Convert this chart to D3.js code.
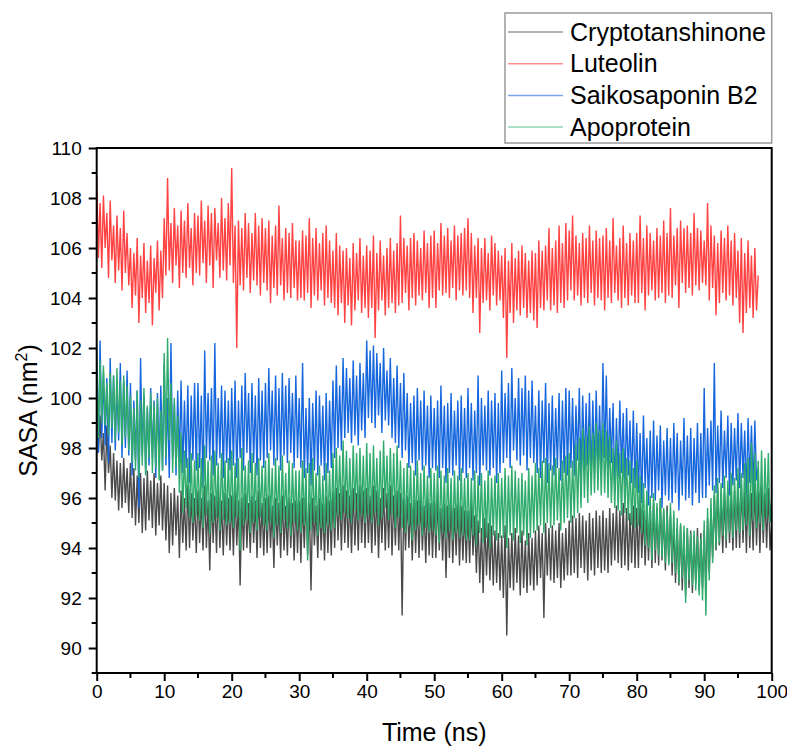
<!DOCTYPE html>
<html><head><meta charset="utf-8">
<script src="https://cdn.jsdelivr.net/npm/d3@7"></script>
<style>body{margin:0;background:#fff}svg{display:block}text{font-family:"Liberation Sans",Arial,sans-serif;fill:#000}</style>
</head><body><svg id="c" width="787" height="749"></svg>
<script>
const timeStep = 0.25; // ns between stored samples
const seriesNames = ["Cryptotanshinone","Luteolin","Saikosaponin B2","Apoprotein"];
const seriesColors = ["#4a4a4a","#ff4343","#1667de","#2fab6b"];
const legendColors = ["#9a9a9a","#ff8f8f","#7aa7ee","#8fd6b0"];
const xTicks = [0,10,20,30,40,50,60,70,80,90,100];
const yTicks = [90,92,94,96,98,100,102,104,106,108,110];

const cryptotanshinone = [
99.6,97.8,99.3,97.5,98.6,96.3,98.9,97.0,98.1,96.0,97.8,95.9,97.5,95.5,97.4,95.6,97.6,95.8,97.2,95.4,
97.4,95.2,97.2,94.9,96.9,95.0,97.0,94.6,96.8,94.7,97.1,95.1,96.7,94.8,97.0,94.5,96.6,94.9,96.9,94.7,
96.6,94.3,96.5,93.8,96.2,94.1,96.4,94.5,96.1,93.6,96.3,94.2,96.0,93.9,96.5,94.0,96.2,94.3,96.0,93.8,
96.3,94.2,96.0,93.9,96.5,94.0,95.9,93.1,96.2,94.2,96.1,93.8,96.4,94.0,95.9,93.7,96.2,94.1,96.0,93.9,
96.1,93.7,96.3,94.1,95.9,92.5,96.0,93.9,96.2,94.0,95.8,93.8,96.1,94.2,95.9,93.6,96.3,94.0,95.8,93.7,
96.0,93.8,96.1,94.0,95.7,93.2,96.0,94.1,95.8,93.6,96.1,93.9,95.7,93.7,96.0,94.0,95.8,93.5,95.9,93.8,
95.9,93.4,96.0,94.0,96.1,93.7,95.8,92.3,96.0,94.1,95.7,93.6,96.0,93.9,95.8,93.5,96.1,93.8,95.9,93.7,
96.3,94.0,96.4,94.3,96.2,93.9,96.5,94.2,96.3,94.0,96.1,93.8,96.4,94.1,96.2,93.9,96.5,94.2,96.3,94.0,
96.4,94.2,96.1,93.8,96.5,94.1,96.3,93.6,96.0,94.2,96.4,93.9,96.2,94.0,96.5,93.7,96.1,94.1,96.3,93.9,
96.2,91.3,96.0,93.9,96.1,94.0,95.8,93.5,96.0,93.8,95.9,93.6,96.1,93.9,95.7,93.4,96.0,93.7,95.8,93.6,
95.9,93.6,96.1,93.9,95.6,93.5,95.8,92.8,95.7,93.6,95.9,93.4,95.6,93.7,95.8,93.3,95.7,93.5,95.5,93.4,
95.5,93.4,95.8,93.7,95.3,93.0,95.1,92.6,94.8,92.2,95.2,92.9,95.0,92.7,94.9,92.5,94.7,92.6,94.6,92.3,
94.5,92.0,94.9,90.5,94.4,92.4,94.6,92.3,94.8,92.6,94.5,92.1,94.7,92.4,94.3,92.2,94.6,92.5,94.4,92.3,
94.7,92.5,94.9,92.8,94.6,91.2,95.0,92.9,94.8,92.7,94.9,92.6,94.7,92.8,95.0,92.4,94.6,92.7,94.8,92.9,
95.1,92.9,95.3,93.0,95.2,92.8,95.4,93.2,95.3,93.0,95.1,92.7,95.4,93.1,95.2,92.9,95.5,93.2,95.3,93.0,
95.5,93.1,95.2,93.0,95.6,93.3,95.4,93.5,95.7,93.4,95.5,93.2,95.8,93.3,95.6,93.1,95.4,93.4,95.7,93.2,
95.6,93.2,95.9,93.6,95.5,93.3,95.4,93.5,95.7,93.2,95.8,93.4,95.6,93.3,95.9,93.5,95.5,93.1,95.7,93.4,
95.3,92.9,95.0,92.6,94.8,92.5,94.9,92.3,94.6,92.1,94.8,92.4,94.7,92.2,94.5,92.6,94.8,92.3,94.6,92.4,
94.7,92.4,95.2,93.0,95.6,93.6,96.1,93.9,96.3,94.1,96.0,93.8,96.2,94.0,96.4,94.2,96.1,93.9,96.3,94.0,
96.4,94.0,96.6,94.2,96.3,93.8,96.5,94.0,96.2,93.9,96.6,94.1,96.3,93.8,96.5,94.2,96.2,94.0,96.4,93.9,
95.0];

const luteolin = [
108.9,105.6,107.8,105.2,108.1,106.0,107.4,104.8,107.9,105.5,106.9,104.6,107.3,105.1,106.8,104.3,107.5,105.0,106.6,104.5,
106.0,103.6,105.8,104.1,106.4,103.0,105.7,104.0,106.2,103.4,105.5,103.8,106.1,102.9,105.6,104.2,106.3,103.5,105.9,104.0,
107.2,104.9,108.8,105.1,107.0,104.6,107.6,105.3,106.9,104.4,107.5,105.0,107.1,104.8,107.8,105.2,106.8,104.5,107.4,105.0,
107.3,104.9,107.9,105.4,107.1,104.6,107.7,105.3,107.4,104.4,107.6,105.5,107.0,104.8,108.0,105.1,107.2,104.7,107.8,105.3,
109.2,104.6,106.9,102.0,107.1,104.5,106.8,104.3,107.4,104.8,107.0,104.2,106.6,104.7,107.4,104.5,106.9,104.1,107.2,104.6,
106.8,104.3,107.1,103.8,106.5,104.4,106.9,104.1,107.7,104.5,106.4,103.9,106.8,104.2,106.6,104.0,107.0,104.4,106.3,103.9,
106.3,104.0,106.7,103.9,106.5,104.2,107.2,103.6,106.4,104.1,106.8,103.9,106.2,104.3,106.6,103.7,106.9,104.0,106.3,103.8,
105.9,103.6,106.6,103.3,106.1,103.8,105.9,103.0,106.0,103.7,105.6,102.9,106.2,103.5,105.8,103.9,106.4,103.4,105.7,103.6,
106.1,103.2,105.9,103.6,106.5,102.4,105.8,103.5,106.3,103.9,105.7,103.3,106.0,103.6,106.4,103.8,105.9,103.4,106.2,103.7,
107.3,103.8,106.4,104.2,106.1,103.5,106.4,104.0,106.6,103.7,106.3,104.1,106.0,103.9,106.7,104.2,106.2,103.6,106.5,104.0,
106.7,103.6,106.2,104.3,107.0,104.1,106.5,104.2,106.8,104.0,106.3,104.4,106.9,103.9,106.5,104.3,106.6,104.1,106.8,104.3,
107.2,104.0,106.6,103.4,106.1,104.0,106.4,102.6,106.0,103.8,106.4,103.9,105.8,103.5,106.5,104.1,106.2,103.7,105.9,103.9,
105.7,103.2,106.0,101.6,105.5,103.4,106.2,103.0,105.6,103.5,105.9,103.3,106.1,103.6,105.8,103.2,105.5,103.4,105.9,103.1,
105.8,102.8,106.3,103.6,105.9,103.5,106.1,103.9,106.8,103.5,106.0,103.7,106.3,103.4,106.9,103.8,106.2,103.6,107.0,103.9,
106.7,104.3,107.3,103.9,106.5,104.1,106.2,103.7,106.6,104.0,106.4,103.8,106.9,104.2,106.3,103.7,106.7,104.0,106.4,103.9,
106.5,103.5,106.8,104.0,106.3,103.8,107.2,104.2,106.1,103.9,106.4,103.6,106.9,104.0,106.2,103.7,106.6,104.1,106.3,103.8,
106.6,103.8,107.3,104.2,106.4,103.5,106.9,104.1,106.6,104.3,106.3,103.9,106.8,104.0,106.5,104.2,107.1,103.8,106.6,104.1,
107.6,104.0,106.5,104.5,106.8,103.6,107.1,104.6,106.8,104.2,106.9,104.4,106.6,104.1,107.4,104.5,106.8,104.3,106.7,104.6,
106.3,104.5,107.8,103.9,106.9,104.4,106.5,103.3,106.2,103.8,106.7,104.2,106.4,103.9,106.9,104.1,106.3,103.7,106.6,104.0,
105.9,103.0,106.4,102.6,105.8,103.4,106.3,103.6,105.7,103.2,106.0,103.5,104.9];

const saikosaponinB2 = [
101.3,97.8,102.3,98.4,101.0,98.1,100.8,97.4,101.6,98.2,100.9,97.9,100.6,98.3,101.4,97.6,100.7,98.0,101.1,97.7,
100.6,96.9,99.9,97.5,100.3,95.6,101.6,97.7,100.1,97.0,99.6,97.3,100.4,97.6,99.9,96.8,100.2,97.4,100.5,97.1,
101.4,97.3,100.0,96.8,102.2,97.6,99.8,96.9,100.3,97.4,100.7,97.0,99.9,97.2,100.5,96.6,100.1,97.5,100.6,97.1,
100.6,97.2,100.1,96.4,101.9,97.6,100.2,97.5,100.4,96.9,102.2,97.3,100.0,97.6,100.5,96.8,100.3,97.4,99.9,97.1,
100.4,97.3,100.7,96.8,99.9,97.6,100.5,97.1,101.0,97.8,100.2,97.0,100.6,97.4,100.1,96.9,100.8,97.5,100.3,97.2,
100.6,97.6,101.2,97.9,100.3,97.3,100.9,97.5,100.4,97.1,101.0,97.7,100.5,97.4,100.8,97.8,100.2,97.2,100.9,97.6,
100.0,97.2,101.4,96.8,99.6,97.0,100.0,96.5,99.8,97.1,100.3,96.9,100.1,97.3,99.7,96.7,100.2,97.0,99.9,97.2,
100.7,97.6,101.3,98.0,100.5,97.9,101.6,98.4,101.2,98.6,100.8,98.2,101.5,98.5,100.9,98.1,101.4,98.7,101.0,98.4,
102.3,99.2,101.9,99.0,102.1,98.8,101.8,99.3,101.4,98.6,102.0,99.1,101.1,98.9,101.6,98.4,100.8,98.2,101.3,98.0,
100.6,97.6,101.0,97.9,100.2,97.2,99.8,97.4,100.1,96.9,100.4,97.5,99.9,97.1,100.3,97.3,99.7,96.8,100.1,97.2,
99.6,97.1,99.9,96.8,100.5,97.2,99.7,96.6,99.8,97.0,100.2,96.9,99.5,97.3,99.9,96.7,100.1,97.0,99.6,96.8,
100.4,97.2,99.8,96.7,99.5,97.0,100.9,96.5,100.0,97.3,99.7,97.1,100.3,96.9,99.9,97.2,100.2,96.6,99.8,97.0,
101.1,97.4,100.2,97.6,100.6,97.2,101.2,97.9,100.0,97.5,100.8,97.3,100.4,97.7,100.9,97.1,100.3,97.6,100.7,97.4,
99.7,97.0,100.3,96.8,99.9,97.4,100.6,96.6,99.8,97.1,100.1,96.9,99.6,97.2,100.2,96.7,99.9,97.0,100.4,96.9,
100.3,97.2,100.0,96.9,99.7,97.5,100.4,96.7,100.1,97.1,99.8,97.3,100.2,96.8,99.9,97.0,100.3,97.2,99.7,96.9,
101.4,97.6,100.9,96.9,99.6,97.4,99.8,96.2,99.2,96.8,99.9,97.0,99.4,96.5,99.6,96.9,99.1,96.6,99.5,96.4,
99.0,96.2,98.6,95.8,99.3,96.4,98.4,95.7,98.7,96.0,99.1,95.9,98.5,96.3,98.9,95.6,98.3,96.1,98.8,95.9,
98.4,95.8,99.0,96.2,98.6,95.5,98.3,96.1,99.2,95.9,98.5,96.0,98.8,95.7,98.4,96.2,99.0,95.8,98.6,96.0,
100.4,96.0,98.8,96.5,99.1,96.3,101.4,96.2,98.9,96.6,99.5,96.4,98.7,96.8,99.3,96.1,99.0,96.5,98.8,96.7,
99.4,96.4,99.0,96.8,98.7,96.0,99.2,96.6,98.9,96.3,99.1,96.7,97.2];

const apoprotein = [
101.9,98.4,101.5,99.0,101.3,98.9,100.6,98.5,101.0,98.8,100.9,98.3,101.2,98.6,100.7,98.1,100.9,98.4,100.5,97.9,
100.1,97.4,99.6,97.1,100.3,96.8,99.9,97.3,100.4,96.9,99.7,97.6,100.2,97.0,99.8,97.2,100.0,96.7,99.5,97.1,
101.8,97.6,102.4,98.3,100.6,97.0,100.0,97.2,99.3,96.2,98.6,95.4,97.9,95.6,97.6,95.2,97.8,95.0,97.5,95.3,
97.8,95.1,97.6,94.8,98.1,95.3,97.5,94.6,97.7,95.0,97.9,95.2,97.4,94.7,97.8,95.1,97.5,94.9,97.6,95.0,
97.9,94.8,97.4,95.2,97.6,93.9,98.0,94.9,97.3,95.1,97.5,94.6,97.8,95.0,97.4,94.7,97.6,95.2,97.3,94.9,
97.5,94.7,97.8,95.0,97.2,94.4,97.6,94.9,97.3,94.6,97.7,95.1,97.0,94.8,97.5,94.5,97.4,95.0,97.1,94.7,
97.1,94.6,97.5,94.9,97.2,93.5,97.4,94.7,97.6,95.0,97.0,94.5,97.3,94.8,96.9,94.6,97.4,94.9,97.1,94.7,
97.8,94.8,98.0,95.3,97.7,95.1,98.3,95.4,97.9,95.2,97.6,95.0,98.1,95.5,97.8,95.1,98.0,95.3,97.7,95.0,
98.2,95.3,97.8,95.0,98.1,95.4,97.6,94.9,97.9,95.2,98.3,95.6,97.7,95.1,98.0,95.3,97.8,94.8,98.1,95.2,
97.5,94.8,97.2,94.6,97.4,94.9,97.3,94.3,97.1,94.7,97.5,94.9,97.0,94.5,97.3,94.8,96.9,94.6,97.2,94.7,
97.0,94.5,97.3,94.2,97.1,94.6,96.9,94.4,97.2,94.7,96.8,94.3,97.1,94.6,96.9,94.4,97.2,94.5,96.8,94.3,
97.0,94.3,96.8,94.5,97.1,94.1,96.9,94.6,97.0,94.2,96.7,94.4,97.1,94.0,96.8,94.5,96.9,94.3,97.0,94.4,
96.8,94.4,97.2,94.0,96.9,94.5,97.3,94.3,97.1,94.6,96.8,94.2,97.0,94.5,96.7,94.1,97.2,94.4,96.9,94.6,
97.4,94.7,97.2,94.9,97.5,94.6,97.6,95.0,97.4,94.8,97.3,94.9,97.6,95.1,97.2,94.7,97.5,95.0,97.7,95.2,
97.8,95.0,97.5,95.2,98.2,95.4,98.4,95.6,98.8,96.0,98.5,95.8,98.9,96.1,98.6,96.2,99.0,96.3,98.7,96.1,
99.0,96.2,98.7,96.0,98.5,95.8,98.0,95.6,98.3,95.5,97.8,95.3,98.0,95.4,97.6,95.1,97.5,94.9,97.2,94.8,
97.5,94.9,96.9,94.6,96.6,94.1,96.3,94.0,96.1,93.5,96.2,93.9,95.8,93.7,96.0,93.6,95.6,93.4,95.5,93.3,
95.8,93.4,95.5,93.0,95.2,92.6,95.0,92.8,94.9,91.8,94.8,92.7,94.6,92.5,94.7,92.3,94.5,92.1,94.4,91.9,
95.1,91.3,95.6,92.7,96.0,93.4,96.5,94.0,96.8,94.2,96.6,94.5,96.9,94.3,96.7,94.6,97.0,94.4,96.8,94.7,
97.2,94.6,97.0,94.7,97.4,94.9,97.6,94.5,98.2,95.1,97.8,94.8,97.5,95.0,97.9,94.7,97.6,95.2,97.8,95.0,
96.0];

const allSeries = [cryptotanshinone, luteolin, saikosaponinB2, apoprotein];

const svg = d3.select("#c");
const L = 96.7, R = 771.7, T = 148, B = 673;
const x = d3.scaleLinear().domain([0,100]).range([L,R]);
const y = d3.scaleLinear().domain([89,110]).range([B,T]);

svg.append("defs").append("clipPath").attr("id","clip")
  .append("rect").attr("x",L).attr("y",T).attr("width",R-L).attr("height",B-T);

const line = d3.line().x((d,i)=>x(i*timeStep)).y(d=>y(d));
const gData = svg.append("g").attr("clip-path","url(#clip)");
allSeries.forEach((s,k)=>{
  gData.append("path").datum(s).attr("d",line)
    .attr("fill","none").attr("stroke",seriesColors[k]).attr("stroke-width",1.4)
    .attr("stroke-linejoin","miter").attr("stroke-miterlimit",2);
});

// frame
svg.append("rect").attr("x",L).attr("y",T).attr("width",R-L).attr("height",B-T)
  .attr("fill","none").attr("stroke","#000").attr("stroke-width",2);

// x axis
const xMinor = d3.range(5,100,10);
const xAxis = svg.append("g").attr("transform",`translate(0,${B})`);
xAxis.call(d3.axisBottom(x).tickValues(xTicks).tickSize(8).tickPadding(4).tickFormat(d3.format("d")));
xAxis.call(g=>g.select(".domain").remove());
xAxis.selectAll(".tick line").attr("stroke-width",2);
xAxis.selectAll("text").attr("font-size",19).attr("font-family","Liberation Sans, Arial, sans-serif");
xAxis.selectAll(".minor").data(xMinor).join("line").attr("class","minor")
  .attr("x1",d=>x(d)).attr("x2",d=>x(d)).attr("y1",0).attr("y2",5)
  .attr("stroke","#000").attr("stroke-width",2);

// y axis
const yMinor = d3.range(89,110,2);
const yAxis = svg.append("g").attr("transform",`translate(${L},0)`);
yAxis.call(d3.axisLeft(y).tickValues(yTicks).tickSize(8).tickPadding(7).tickFormat(d3.format("d")));
yAxis.call(g=>g.select(".domain").remove());
yAxis.selectAll(".tick line").attr("stroke-width",2);
yAxis.selectAll("text").attr("font-size",19).attr("font-family","Liberation Sans, Arial, sans-serif");
yAxis.selectAll(".minor").data(yMinor).join("line").attr("class","minor")
  .attr("y1",d=>y(d)).attr("y2",d=>y(d)).attr("x1",0).attr("x2",-5)
  .attr("stroke","#000").attr("stroke-width",2);

// titles
svg.append("text").attr("x",(L+R)/2).attr("y",741).attr("text-anchor","middle")
  .attr("font-size",25).text("Time (ns)");
const yt = svg.append("text").attr("transform",`translate(37,${(T+B)/2}) rotate(-90)`)
  .attr("text-anchor","middle").attr("font-size",25);
yt.append("tspan").text("SASA (nm");
yt.append("tspan").attr("font-size",16).attr("dy",-10).text("2");
yt.append("tspan").attr("dy",10).text(")");

// legend
const lg = svg.append("g");
lg.append("rect").attr("x",505).attr("y",13).attr("width",266.7).attr("height",130)
  .attr("fill","#fff").attr("stroke","#999").attr("stroke-width",1.5);
seriesNames.forEach((n,k)=>{
  const cy = 32 + k*31.7;
  lg.append("line").attr("x1",508).attr("x2",563).attr("y1",cy).attr("y2",cy)
    .attr("stroke",legendColors[k]).attr("stroke-width",1.5);
  lg.append("text").attr("x",570).attr("y",cy+8.5).attr("font-size",25).text(n);
});
</script></body></html>
